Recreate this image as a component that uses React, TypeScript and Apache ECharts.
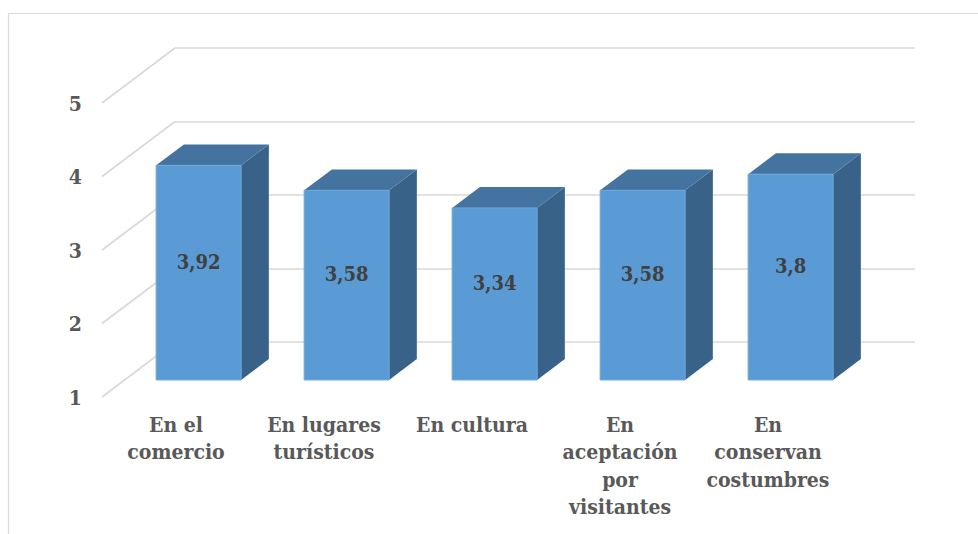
import React, { useEffect, useRef } from "react";
import * as echarts from "echarts";

const categories = [
  "En el\ncomercio",
  "En lugares\nturísticos",
  "En cultura",
  "En\naceptación\npor\nvisitantes",
  "En\nconservan\ncostumbres",
];
const values = [3.92, 3.58, 3.34, 3.58, 3.8];
const valueLabels = ["3,92", "3,58", "3,34", "3,58", "3,8"];
const yTicks = [1, 2, 3, 4, 5];

const Y_MIN = 1;
const Y_MAX = 5;
const DEPTH_DX = 73;
const DEPTH_DY = -55;
const BAR_FRONT = 0.31;
const BAR_DEPTH = 0.38;
const BAR_RATIO = 0.574;
const FONT = "DejaVu Serif Condensed";

export default function App() {
  const ref = useRef<HTMLDivElement>(null);
  useEffect(() => {
    if (!ref.current) return;
    const chart = echarts.init(ref.current, null, { renderer: "svg" });
    const option: any = {
      animation: false,
      backgroundColor: "#ffffff",
      graphic: [
        {
          type: "rect",
          shape: { x: 8.5, y: 13.5, width: 1000, height: 600 },
          style: { fill: "none", stroke: "#D9D9D9", lineWidth: 1.2 },
          silent: true,
          z: -10,
        },
      ],
      grid: [
        { left: 175, top: 48, width: 740, height: 294 },
        { left: 102, top: 103, width: 740, height: 294 },
      ],
      xAxis: [
        {
          type: "category",
          gridIndex: 0,
          data: categories,
          axisLine: { show: false },
          axisTick: { show: false },
          axisLabel: { show: false },
        },
        {
          type: "category",
          gridIndex: 1,
          data: categories,
          axisLine: { show: false },
          axisTick: { show: false },
          axisLabel: {
            interval: 0,
            margin: 14,
            fontSize: 21,
            lineHeight: 27.3,
            fontWeight: "bold",
            fontFamily: FONT,
            color: "#595959",
            align: "center",
          },
        },
      ],
      yAxis: [
        {
          type: "value",
          gridIndex: 0,
          min: Y_MIN,
          max: Y_MAX,
          interval: 1,
          axisLine: { show: false },
          axisTick: { show: false },
          axisLabel: { show: false },
          splitLine: { show: true, lineStyle: { color: "#D9D9D9", width: 1.6 } },
        },
        {
          type: "value",
          gridIndex: 1,
          min: Y_MIN,
          max: Y_MAX,
          interval: 1,
          axisLine: { show: false },
          axisTick: { show: false },
          splitLine: { show: false },
          axisLabel: {
            margin: 20,
            fontSize: 21,
            fontWeight: "bold",
            fontFamily: FONT,
            color: "#595959",
          },
        },
      ],
      series: [
        {
          type: "custom",
          name: "walls",
          xAxisIndex: 1,
          yAxisIndex: 1,
          z: 1,
          silent: true,
          data: yTicks.map((v) => [0, v]),
          renderItem: (params: any, api: any) => {
            const v = api.value(1);
            const y = api.coord([0, v])[1];
            const x = params.coordSys.x;
            return {
              type: "line",
              shape: { x1: x, y1: y, x2: x + DEPTH_DX, y2: y + DEPTH_DY },
              style: { stroke: "#D9D9D9", lineWidth: 1.6 },
            };
          },
        },
        {
          type: "custom",
          name: "bars",
          xAxisIndex: 1,
          yAxisIndex: 1,
          z: 3,
          data: values.map((v, i) => [i, v]),
          renderItem: (params: any, api: any) => {
            const i = api.value(0);
            const v = api.value(1);
            const top = api.coord([i, v]);
            const base = api.coord([i, Y_MIN]);
            const band = api.size([1, 0])[0];
            const w = band * BAR_RATIO;
            const ox = DEPTH_DX * BAR_FRONT;
            const oy = DEPTH_DY * BAR_FRONT;
            const bx = DEPTH_DX * BAR_DEPTH;
            const by = DEPTH_DY * BAR_DEPTH;
            const x0 = top[0] - w / 2 + ox;
            const x1 = x0 + w;
            const yT = top[1] + oy;
            const yB = base[1] + oy;
            return {
              type: "group",
              children: [
                {
                  type: "polygon",
                  shape: {
                    points: [
                      [x1, yT],
                      [x1 + bx, yT + by],
                      [x1 + bx, yB + by],
                      [x1, yB],
                    ],
                  },
                  style: { fill: "#396289" },
                },
                {
                  type: "polygon",
                  shape: {
                    points: [
                      [x0, yT],
                      [x1, yT],
                      [x1 + bx, yT + by],
                      [x0 + bx, yT + by],
                    ],
                  },
                  style: { fill: "#44739F" },
                },
                {
                  type: "rect",
                  shape: { x: x0, y: yT, width: w, height: yB - yT },
                  style: { fill: "#5B9BD5", stroke: "#6BA6DB", lineWidth: 1 },
                },
                {
                  type: "text",
                  style: {
                    text: valueLabels[params.dataIndex],
                    x: (x0 + x1) / 2,
                    y: (yT + yB) / 2 - 11,
                    align: "center",
                    verticalAlign: "middle",
                    fontSize: 20,
                    fontWeight: "bold",
                    fontFamily: FONT,
                    fill: "#404040",
                  },
                },
              ],
            };
          },
        },
      ],
    };
    chart.setOption(option);
    return () => chart.dispose();
  }, []);
  return (
    <div
      ref={ref}
      style={{ position: "absolute", left: 0, top: 0, width: 978, height: 534 }}
    />
  );
}
